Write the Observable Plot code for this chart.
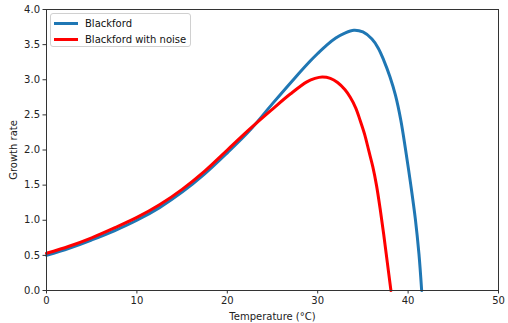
<!DOCTYPE html>
<html>
<head>
<meta charset="utf-8">
<script src="https://cdn.jsdelivr.net/npm/d3@7"></script>
<script src="https://cdn.jsdelivr.net/npm/@observablehq/plot@0.6"></script>
<style>
  html, body { margin: 0; padding: 0; background: #fff; }
  #wrap { position: relative; width: 508px; height: 323px; font-family: "DejaVu Sans", sans-serif; }
  #legend { position: absolute; left: 50px; top: 13px; width: 139px; height: 32px; border: 1px solid #d0d0d0; border-radius: 3px; background: rgba(255,255,255,0.85); font-size: 10px; color: #111; }
  .item { position: absolute; left: 3px; height: 14px; display: flex; align-items: center; }
  .swatch { width: 24px; height: 3px; margin-right: 7px; }
</style>
</head>
<body>
<div id="wrap"></div>
<script>
const seriesNames = ["Blackford", "Blackford with noise"];
const seriesColors = ["#1f77b4", "#ff0000"];

const blackfordT = [0, 2.5, 5, 7.5, 10, 12.5, 15, 17.5, 20, 22.5, 25, 27.5, 29.2, 30, 31, 32, 33, 34, 35, 36, 36.7, 37.3, 38.0, 38.6, 39.2, 39.7, 40.3, 40.8, 41.2, 41.5];
const blackfordG = [0.50, 0.60, 0.72, 0.85, 1.00, 1.18, 1.40, 1.66, 1.96, 2.28, 2.66, 3.03, 3.27, 3.374, 3.494, 3.594, 3.665, 3.705, 3.68, 3.58, 3.45, 3.28, 3.04, 2.78, 2.42, 2.02, 1.50, 1.02, 0.52, 0.00];

const noiseT = [0, 2.5, 5, 7.5, 10, 12.5, 15, 17.5, 20, 22.5, 24.8, 27, 28.8, 29.7, 30.5, 31.4, 32.2, 33.0, 33.6, 34.2, 34.7, 35.2, 35.65, 36.1, 36.5, 36.9, 37.3, 37.7, 38.1];
const noiseG = [0.53, 0.63, 0.75, 0.89, 1.04, 1.22, 1.44, 1.70, 2.00, 2.30, 2.56, 2.80, 2.97, 3.02, 3.04, 3.02, 2.96, 2.86, 2.75, 2.60, 2.42, 2.22, 1.99, 1.76, 1.50, 1.17, 0.80, 0.40, 0.00];

const xTicks = [0, 10, 20, 30, 40, 50];
const yTicks = [0, 0.5, 1.0, 1.5, 2.0, 2.5, 3.0, 3.5, 4.0];

const blueData = blackfordT.map((t, i) => ({t, g: blackfordG[i]}));
const redData = noiseT.map((t, i) => ({t, g: noiseG[i]}));

const chart = Plot.plot({
  width: 508,
  height: 323,
  marginLeft: 46,
  marginRight: 10,
  marginTop: 9,
  marginBottom: 33,
  style: { fontFamily: "DejaVu Sans, sans-serif", fontSize: "10px", color: "#222", background: "#fff" },
  x: { domain: [0, 50] },
  y: { domain: [0, 4] },
  marks: [
    Plot.line(blueData, { x: "t", y: "g", stroke: seriesColors[0], strokeWidth: 3, curve: "catmull-rom" }),
    Plot.line(redData, { x: "t", y: "g", stroke: seriesColors[1], strokeWidth: 3, curve: "catmull-rom" }),
    Plot.frame({ stroke: "#333", strokeWidth: 1 }),
    Plot.axisX({ ticks: xTicks, tickSize: 3.5, tickPadding: 3, tickFormat: d3.format("d"), label: "Temperature (°C)", labelAnchor: "center", labelArrow: "none", labelOffset: 29, stroke: "#333" }),
    Plot.axisY({ ticks: yTicks, tickSize: 3.5, tickPadding: 3, tickFormat: d3.format(".1f"), label: "Growth rate", labelAnchor: "center", labelArrow: "none", labelOffset: 37, stroke: "#333" })
  ]
});

const wrap = document.getElementById("wrap");
wrap.appendChild(chart);

const legend = document.createElement("div");
legend.id = "legend";
seriesNames.forEach((name, i) => {
  const item = document.createElement("div");
  item.className = "item";
  item.style.top = (2 + i * 16) + "px";
  const sw = document.createElement("div");
  sw.className = "swatch";
  sw.style.background = seriesColors[i];
  const lab = document.createElement("span");
  lab.textContent = name;
  item.appendChild(sw);
  item.appendChild(lab);
  legend.appendChild(item);
});
wrap.appendChild(legend);
</script>
</body>
</html>
